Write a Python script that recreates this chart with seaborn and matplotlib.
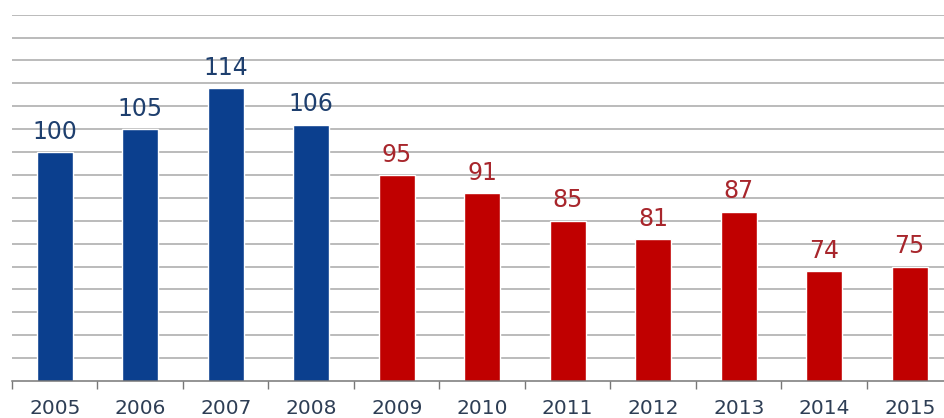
import matplotlib
matplotlib.use("Agg")
import matplotlib.pyplot as plt
import seaborn as sns
import numpy as np

# index values per year (2005 = 100)
years = ["2005", "2006", "2007", "2008", "2009", "2010", "2011", "2012", "2013", "2014", "2015"]
values = [100, 105, 114, 106, 95, 91, 85, 81, 87, 74, 75]
period = ["before", "before", "before", "before",
          "after", "after", "after", "after", "after", "after", "after"]

bar_colors = {"before": "#0B3F8E", "after": "#C00000"}
label_colors = {"before": "#1E3F6E", "after": "#A8262C"}

sns.set_style("white")
plt.rcParams["font.family"] = ["DejaVu Sans"]

fig = plt.figure(figsize=(9.45, 4.18), dpi=100)
ax = fig.add_axes([12 / 945, 37 / 418, 940.5 / 945, 366.3 / 418])

sns.barplot(x=years, y=values, hue=period, palette=bar_colors, dodge=False,
            width=0.42, legend=False, saturation=1, ax=ax)

for cont, grp in zip(ax.containers, ["before", "after"]):
    ax.bar_label(cont, padding=6, fontsize=17, color=label_colors[grp])

ax.set_ylim(50, 130)
ax.set_xlim(-0.5, len(years) - 0.5)
ax.set_yticks(np.arange(55, 131, 5))
ax.set_yticklabels([])
ax.tick_params(axis="y", length=0)
ax.yaxis.grid(True, color="#A8A8A8", linewidth=1.1)
ax.set_axisbelow(True)

# ticks between categories on the x axis
ax.set_xticks(np.arange(-0.5, len(years), 1), minor=True)
ax.tick_params(axis="x", which="minor", bottom=True, length=6, color="#777777",
               width=1, direction="out")
ax.tick_params(axis="x", which="major", bottom=True, length=0, pad=13,
               labelsize=14.5, labelcolor="#2E3E55")

for side in ["top", "right", "left"]:
    ax.spines[side].set_visible(False)
ax.spines["bottom"].set_color("#777777")
ax.spines["bottom"].set_linewidth(1.1)

fig.savefig("out.png", dpi=100)
